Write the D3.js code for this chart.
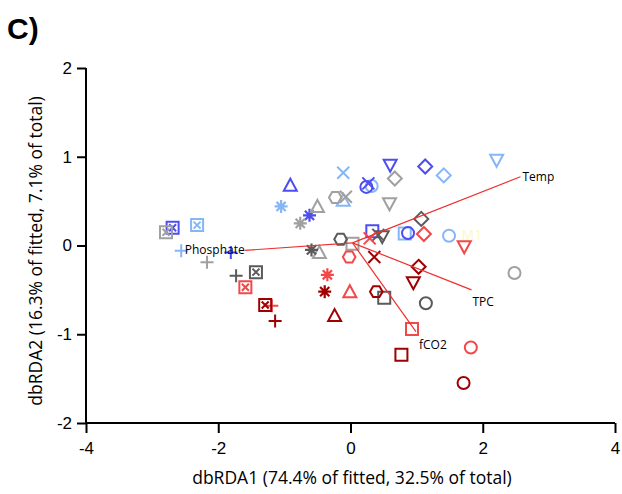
<!DOCTYPE html>
<html>
<head>
<meta charset="utf-8">
<script src="https://cdn.jsdelivr.net/npm/d3@7"></script>
<style>
  body { margin: 0; background: #fff; }
  svg { display: block; }
</style>
</head>
<body>
<svg id="chart" width="622" height="494"></svg>
<script>
// colour groups and symbol types
var groupColors = {
  LB: "#86b6f6",
  B: "#4d4df2",
  LG: "#a0a0a0",
  DG: "#5a5a5a",
  LR: "#f24848",
  DR: "#a00000"
};

// sample scores on the first two dbRDA axes
var dbRDA1 = [
  -2.32, -2.56, -1.05, -0.11, -0.11, 0.32, 0.82, 1.49, 2.21, 1.41,
  -2.69, -1.81, -0.62, -0.91, 0.27, 0.24, 0.33, 0.87, 0.60, 1.13,
  -2.79, -2.17, -0.76, -0.50, -0.47, -0.23, -0.07, 0.03, 0.59, 0.67, 2.48,
  -1.43, -1.73, -0.59, -0.15, 0.42, 0.48, 1.07, 0.51, 1.14,
  -1.59, -1.19, -0.35, -0.01, 0.29, -0.02, 1.11, 1.72, 0.93, 1.82,
  -1.29, -1.14, -0.39, -0.24, 0.36, 0.39, 1.03, 0.95, 0.77, 1.71
];
var dbRDA2 = [
  0.23, -0.06, 0.44, 0.51, 0.82, 0.67, 0.135, 0.11, 0.96, 0.79,
  0.20, -0.08, 0.34, 0.68, 0.70, 0.66, 0.16, 0.14, 0.905, 0.89,
  0.15, -0.19, 0.25, 0.44, -0.08, 0.54, 0.55, 0.02, 0.47, 0.755, -0.31,
  -0.30, -0.34, -0.05, 0.07, 0.12, 0.10, 0.30, -0.59, -0.65,
  -0.47, -0.68, -0.33, -0.52, 0.08, -0.13, 0.13, -0.015, -0.94, -1.15,
  -0.67, -0.85, -0.52, -0.79, -0.13, -0.52, -0.24, -0.42, -1.23, -1.55
];
var group = [
  "LB","LB","LB","LB","LB","LB","LB","LB","LB","LB",
  "B","B","B","B","B","B","B","B","B","B",
  "LG","LG","LG","LG","LG","LG","LG","LG","LG","LG","LG",
  "DG","DG","DG","DG","DG","DG","DG","DG","DG",
  "LR","LR","LR","LR","LR","LR","LR","LR","LR","LR",
  "DR","DR","DR","DR","DR","DR","DR","DR","DR","DR"
];
var symbol = [
  "sqx","plus","star","tri","x","circ","sq","circ","tridown","diam",
  "sqx","plus","star","tri","x","circ","sq","circ","tridown","diam",
  "sqx","plus","star","tri","tri","hex","x","sq","tridown","diam","circ",
  "sqx","plus","star","hex","x","tridown","diam","sq","circ",
  "sqx","plus","star","tri","x","hex","diam","tridown","sq","circ",
  "sqx","plus","star","tri","x","hex","diam","tridown","sq","circ"
];

// environmental vectors
var vecNames = ["Temp", "Phosphate", "TPC", "fCO2"];
var vecX = [2.57, -1.60, 1.83, 0.99];
var vecY = [0.775, -0.055, -0.50, -0.97];
var vecOrigin = [0.03, 0.03];

var xTicks = [-4, -2, 0, 2, 4];
var yTicks = [-2, -1, 0, 1, 2];

var svg = d3.select("#chart");
var plotLeft = 86, plotRight = 615, plotTop = 68, plotBottom = 423;

var x = d3.scaleLinear().domain([-4, 4]).range([plotLeft, plotRight]);
var y = d3.scaleLinear().domain([-2, 2]).range([plotBottom, plotTop]);

// title
svg.append("text")
  .attr("x", 7).attr("y", 39)
  .attr("font-family", "Liberation Sans, Arial, sans-serif")
  .attr("font-weight", "bold")
  .attr("font-size", 30)
  .text("C)");

// axes
var fmt = function(d) { return String(d); };
var xAxis = svg.append("g")
  .attr("transform", "translate(0," + plotBottom + ")")
  .call(d3.axisBottom(x).tickValues(xTicks).tickSize(10).tickPadding(9).tickFormat(fmt));
var yAxis = svg.append("g")
  .attr("transform", "translate(" + plotLeft + ",0)")
  .call(d3.axisLeft(y).tickValues(yTicks).tickSize(9).tickPadding(5).tickFormat(fmt));

[xAxis, yAxis].forEach(function(ax) {
  ax.select(".domain").attr("stroke", "#000").attr("stroke-width", 2);
  ax.selectAll(".tick line").attr("stroke", "#000").attr("stroke-width", 2);
  ax.selectAll(".tick text")
    .attr("fill", "#000")
    .attr("font-family", "Liberation Sans, Arial, sans-serif")
    .attr("font-size", 17);
});
xAxis.select(".domain").attr("d", "M" + plotLeft + ",0H" + plotRight);
yAxis.select(".domain").attr("d", "M0," + plotTop + "V" + plotBottom);

// axis titles
svg.append("text")
  .attr("x", 352).attr("y", 484)
  .attr("text-anchor", "middle")
  .attr("font-family", "Open Sans, sans-serif")
  .attr("font-size", 17.5)
  .text("dbRDA1 (74.4% of fitted, 32.5% of total)");
svg.append("text")
  .attr("transform", "translate(42,251) rotate(-90)")
  .attr("text-anchor", "middle")
  .attr("font-family", "Open Sans, sans-serif")
  .attr("font-size", 17.5)
  .text("dbRDA2 (16.3% of fitted, 7.1% of total)");

// symbol paths, centred on 0,0
function symPath(t) {
  var s = 6;
  switch (t) {
    case "sq": return "M" + -s + "," + -s + "H" + s + "V" + s + "H" + -s + "Z";
    case "sqx": return "M" + -s + "," + -s + "H" + s + "V" + s + "H" + -s + "Z" +
      "M-3.5,-3.5L3.5,3.5M3.5,-3.5L-3.5,3.5";
    case "circ": return "M6,0A6,6 0 1,1 -6,0A6,6 0 1,1 6,0Z";
    case "hex":
      var p = d3.range(6).map(function(i) {
        var a = Math.PI / 3 * i;
        return [6.3 * Math.cos(a), 6.3 * Math.sin(a)];
      });
      return "M" + p.join("L") + "Z";
    case "tri": return "M0,-6.5L6.5,5.5H-6.5Z";
    case "tridown": return "M0,6.5L6.5,-5.5H-6.5Z";
    case "diam": return "M0,-7L7,0L0,7L-7,0Z";
    case "x": return "M-6,-6L6,6M6,-6L-6,6";
    case "plus": return "M-6.5,0H6.5M0,-6.5V6.5";
    case "star": return "M-6.5,0H6.5M0,-6.5V6.5M-4.6,-4.6L4.6,4.6M4.6,-4.6L-4.6,4.6";
  }
}

var pts = d3.range(dbRDA1.length);
svg.append("g").selectAll("path")
  .data(pts)
  .join("path")
  .attr("transform", function(i) { return "translate(" + x(dbRDA1[i]) + "," + y(dbRDA2[i]) + ")"; })
  .attr("d", function(i) { return symPath(symbol[i]); })
  .attr("fill", "none")
  .attr("stroke", function(i) { return groupColors[group[i]]; })
  .attr("stroke-width", function(i) { return symbol[i] == "star" ? 2.2 : 2; });

// faint sample label
svg.append("text")
  .attr("x", x(1.68)).attr("y", y(0.06))
  .attr("font-family", "Open Sans, sans-serif")
  .attr("font-size", 14)
  .attr("fill", "#fbf7c8")
  .text("M1");

// vectors
var vg = svg.append("g");
vecNames.forEach(function(n, i) {
  vg.append("line")
    .attr("x1", x(vecOrigin[0])).attr("y1", y(vecOrigin[1]))
    .attr("x2", x(vecX[i])).attr("y2", y(vecY[i]))
    .attr("stroke", "#f03030")
    .attr("stroke-width", 1.2);
});

var labelStyle = function(t) {
  t.attr("font-family", "Open Sans, sans-serif").attr("font-size", 12).attr("fill", "#000");
};
vg.append("text").call(labelStyle)
  .attr("x", x(vecX[0]) + 2).attr("y", y(vecY[0]) + 4).text(vecNames[0]);
vg.append("text").call(labelStyle)
  .attr("text-anchor", "end")
  .attr("x", x(vecX[1])).attr("y", y(vecY[1]) + 4).text(vecNames[1]);
vg.append("text").call(labelStyle)
  .attr("x", x(vecX[2]) + 1).attr("y", y(vecY[2]) + 16).text(vecNames[2]);
vg.append("text").call(labelStyle)
  .attr("x", x(vecX[3]) + 3).attr("y", y(vecY[3]) + 17).text(vecNames[3]);
</script>
</body>
</html>
